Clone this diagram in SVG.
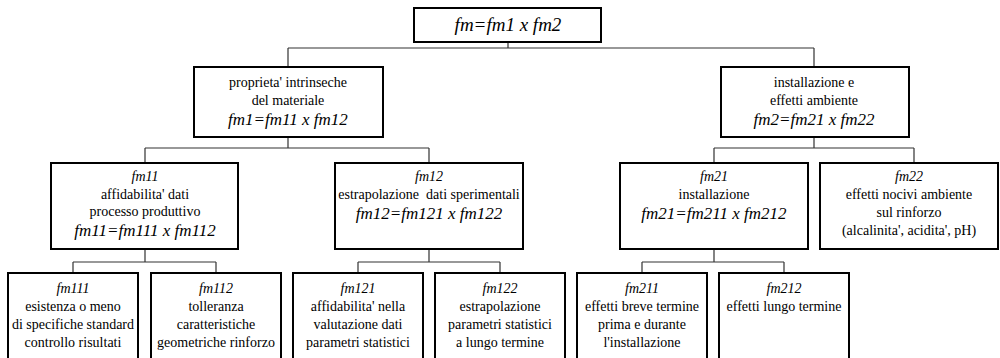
<svg xmlns="http://www.w3.org/2000/svg" width="1000" height="358" viewBox="0 0 1000 358">
<style>
.box{fill:#fff;stroke:#000;stroke-width:2}
.con{fill:none;stroke:#333;stroke-width:1.2}
text{font-family:"Liberation Serif","Times New Roman","DejaVu Serif",serif;font-size:14px;fill:#000;text-anchor:middle}
.it{font-style:italic}
.f{font-style:italic;font-size:17px}
.top{font-style:italic;font-size:19px}
</style>
<rect width="1000" height="358" fill="#fff"/>
<g id="connectors" class="con">
<path d="M508 42V48M288 48H814M288 48V67M814 48V67"/>
<path d="M288 137V148M145 148H429M145 148V163M429 148V163"/>
<path d="M814 137V148M714 148H914M714 148V163M914 148V163"/>
<path d="M145 249V262M73 262H216M73 262V273M216 262V273"/>
<path d="M429 249V262M358 262H500M358 262V273M500 262V273"/>
<path d="M714 249V262M642 262H784M642 262V273M784 262V273"/>
</g>
<g id="fm">
<rect class="box" x="414" y="8" width="187" height="34"/>
<text class="top" x="508" y="31">fm=fm1 x fm2</text>
</g>
<g id="fm1">
<rect class="box" x="194" y="67" width="189" height="70"/>
<text x="288" y="87">proprieta' intrinseche</text>
<text x="288" y="105">del materiale</text>
<text class="f" x="288" y="125">fm1=fm11 x fm12</text>
</g>
<g id="fm2">
<rect class="box" x="721" y="67" width="188" height="70"/>
<text x="814" y="87">installazione e</text>
<text x="814" y="105">effetti ambiente</text>
<text class="f" x="814" y="125">fm2=fm21 x fm22</text>
</g>
<g id="fm11">
<rect class="box" x="51" y="163" width="187" height="86"/>
<text class="it" x="145" y="181">fm11</text>
<text x="145" y="199">affidabilita' dati</text>
<text x="145" y="216">processo produttivo</text>
<text class="f" x="145" y="236">fm11=fm111 x fm112</text>
</g>
<g id="fm12">
<rect class="box" x="335" y="163" width="188" height="86"/>
<text class="it" x="429" y="181">fm12</text>
<text x="429" y="199" xml:space="preserve">estrapolazione  dati sperimentali</text>
<text class="f" x="429" y="219">fm12=fm121 x fm122</text>
</g>
<g id="fm21">
<rect class="box" x="620" y="163" width="188" height="86"/>
<text class="it" x="714" y="181">fm21</text>
<text x="714" y="199">installazione</text>
<text class="f" x="714" y="219">fm21=fm211 x fm212</text>
</g>
<g id="fm22">
<rect class="box" x="820" y="163" width="178" height="86"/>
<text class="it" x="909" y="181">fm22</text>
<text x="909" y="199">effetti nocivi ambiente</text>
<text x="909" y="217">sul rinforzo</text>
<text x="909" y="235">(alcalinita', acidita', pH)</text>
</g>
<g id="fm111">
<rect class="box" x="8" y="273" width="130" height="95"/>
<text class="it" x="73" y="293">fm111</text>
<text x="73" y="311">esistenza o meno</text>
<text x="73" y="329">di specifiche standard</text>
<text x="73" y="347">controllo risultati</text>
</g>
<g id="fm112">
<rect class="box" x="151" y="273" width="130" height="95"/>
<text class="it" x="216" y="293">fm112</text>
<text x="216" y="311">tolleranza</text>
<text x="216" y="329">caratteristiche</text>
<text x="216" y="347">geometriche rinforzo</text>
</g>
<g id="fm121">
<rect class="box" x="293" y="273" width="130" height="95"/>
<text class="it" x="358" y="293">fm121</text>
<text x="358" y="311">affidabilita' nella</text>
<text x="358" y="329">valutazione dati</text>
<text x="358" y="347">parametri statistici</text>
</g>
<g id="fm122">
<rect class="box" x="435" y="273" width="130" height="95"/>
<text class="it" x="500" y="293">fm122</text>
<text x="500" y="311">estrapolazione</text>
<text x="500" y="329">parametri statistici</text>
<text x="500" y="347">a lungo termine</text>
</g>
<g id="fm211">
<rect class="box" x="577" y="273" width="130" height="95"/>
<text class="it" x="642" y="293">fm211</text>
<text x="642" y="311">effetti breve termine</text>
<text x="642" y="329">prima e durante</text>
<text x="642" y="347">l'installazione</text>
</g>
<g id="fm212">
<rect class="box" x="719" y="273" width="130" height="95"/>
<text class="it" x="784" y="293">fm212</text>
<text x="784" y="311">effetti lungo termine</text>
</g>
</svg>
